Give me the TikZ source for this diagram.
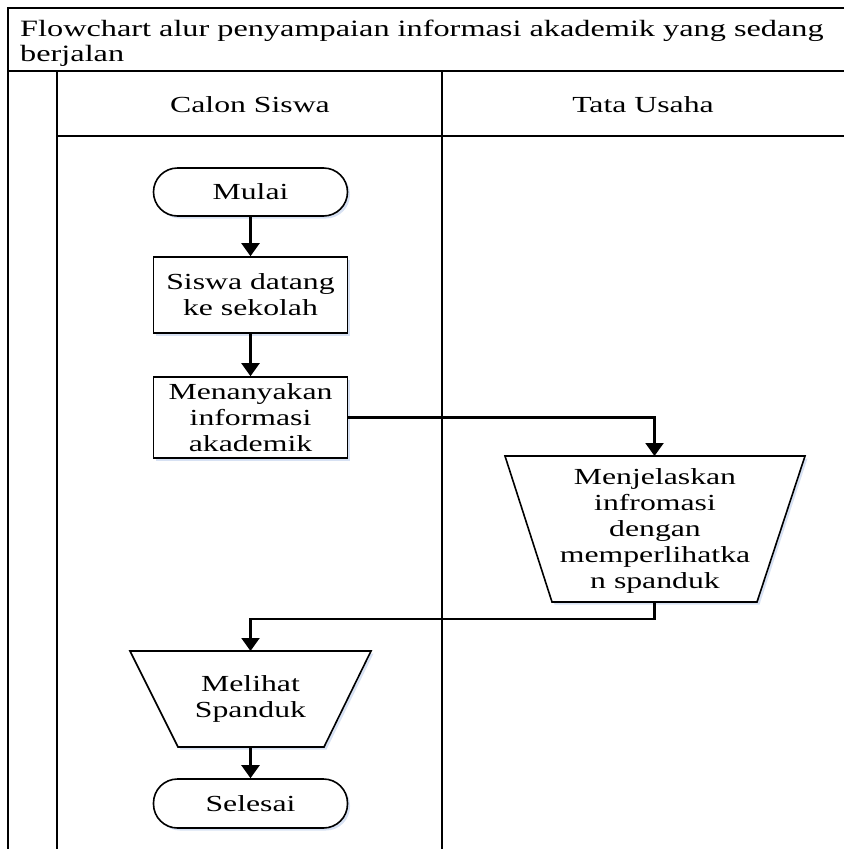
\documentclass[tikz,border=0pt]{standalone}
\usepackage{fontspec}
\setmainfont[FakeStretch=1.38]{Liberation Serif}
\usetikzlibrary{arrows.meta,shadows}
\definecolor{shadowblue}{RGB}{205,218,240}
\begin{document}
\begin{tikzpicture}[x=1pt,y=-1pt,
  frame/.style={line width=1.8pt},
  boxtext/.style={font=\fontsize{23}{26}\selectfont,align=center},
  shade/.style={drop shadow={shadow xshift=2.5pt,shadow yshift=-2.5pt,fill=shadowblue,opacity=0.8}},
  flow/.style={draw,line width=1.6pt,fill=white,boxtext,inner sep=0pt,shade},
  proc/.style={flow,minimum width=194pt},
  term/.style={proc,rounded corners=24pt},
  polyshape/.style={draw,line width=1.6pt,fill=white,line join=miter,shade},
  arr/.style={line width=2.2pt,-{Triangle[length=13pt,width=18pt]}}]
\useasboundingbox (0,0) rectangle (844,849);
% frame
\draw[frame] (844,8) -- (8,8) -- (8,849);
\draw[frame] (8,71) -- (844,71);
\draw[frame] (57,71) -- (57,849);
\draw[frame] (442,71) -- (442,849);
\draw[frame] (57,136) -- (844,136);
\node[anchor=north west,align=left,inner sep=0pt,font=\fontsize{23.4}{24.5}\selectfont] (title) at (20,20)
  {Flowchart alur penyampaian informasi akademik yang sedang\\berjalan};
\node[boxtext] (h1) at (250,105) {Calon Siswa};
\node[boxtext] (h2) at (643,105) {Tata Usaha};
% nodes
\node[term,minimum height=48pt] (mulai) at (250.5,192) {Mulai};
\node[proc,minimum height=76pt] (siswa) at (250.5,295) {Siswa datang\\ke sekolah};
\node[proc,minimum height=81pt] (tanya) at (250.5,417.5) {Menanyakan\\informasi\\akademik};
\draw[polyshape] (505,456) -- (805,456) -- (757,602) -- (552,602) -- cycle;
\coordinate (jtop) at (654.5,456);
\coordinate (jbot) at (654.5,602);
\node[boxtext] (jelas) at (655,531) {Menjelaskan\\infromasi\\dengan\\memperlihatka\\n spanduk};
\draw[polyshape] (130,651) -- (371,651) -- (324,747) -- (178,747) -- cycle;
\coordinate (ltop) at (250.5,651);
\coordinate (lbot) at (250.5,747);
\node[boxtext] (lihat) at (250.5,699) {Melihat\\Spanduk};
\node[term,minimum height=49pt] (selesai) at (250.5,803.5) {Selesai};
% connectors
\draw[arr] (mulai) -- (siswa);
\draw[arr] (siswa) -- (tanya);
\draw[arr] (tanya.east) -| (jtop);
\draw[arr] (jbot) -- (654.5,619) -| (ltop);
\draw[arr] (lbot) -- (selesai);
\end{tikzpicture}
\end{document}
